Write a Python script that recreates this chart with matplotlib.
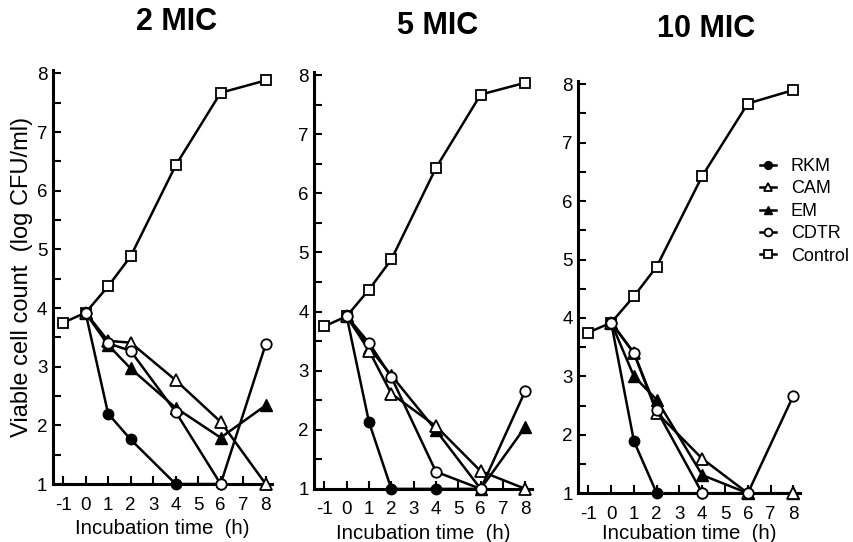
import numpy as np
import matplotlib.pyplot as plt

plt.rcParams['font.family'] = ['Liberation Sans', 'DejaVu Sans']
plt.rcParams['axes.unicode_minus'] = False

# incubation times (h)
t_ctrl = [-1, 0, 1, 2, 4, 6, 8]
t_drug = [0, 1, 2, 4, 6, 8]
t_rkm = [0, 1, 2, 4, 6]

titles = ['2 MIC', '5 MIC', '10 MIC']

control = [
    [3.75, 3.92, 4.37, 4.88, 6.43, 7.67, 7.88],
    [3.75, 3.92, 4.37, 4.88, 6.43, 7.67, 7.87],
    [3.75, 3.92, 4.37, 4.88, 6.43, 7.67, 7.90],
]
rkm = [
    [3.92, 2.20, 1.76, 1.0, 1.0],
    [3.92, 2.13, 1.0, 1.0, 1.0],
    [3.92, 1.89, 1.0, 1.0, 1.0],
]
cam = [
    [3.92, 3.44, 3.41, 2.77, 2.06, 1.0],
    [3.92, 3.34, 2.61, 2.06, 1.30, 1.0],
    [3.92, 3.40, 2.38, 1.59, 1.0, 1.0],
]
em = [
    [3.92, 3.37, 2.97, 2.30, 1.79, 2.34],
    [3.92, 3.39, 2.92, 1.99, 1.0, 2.05],
    [3.92, 3.00, 2.60, 1.31, 1.0, 1.0],
]
cdtr = [
    [3.92, 3.40, 3.27, 2.23, 1.0, 3.38],
    [3.92, 3.47, 2.89, 1.29, 1.0, 2.66],
    [3.92, 3.40, 2.42, 1.0, 1.0, 2.67],
]

# axes rectangles [left, bottom, width, height] and title positions
rects = [[0.062, 0.107, 0.257, 0.763],
         [0.368, 0.098, 0.255, 0.769],
         [0.677, 0.090, 0.260, 0.760]]
title_xy = [(0.207, 0.959), (0.512, 0.952), (0.827, 0.946)]
xlabel_pad = [4, 4, 1]

fig = plt.figure(figsize=(8.54, 5.42), dpi=100)
lw = 1.8
ms = 7.5

for i in range(3):
    ax = fig.add_axes(rects[i])
    ax.plot(t_ctrl, control[i], '-s', color='black', lw=lw, ms=ms - 0.5,
            mfc='white', mew=1.3, label='Control', zorder=3, clip_on=False)
    ax.plot(t_rkm, rkm[i], '-o', color='black', lw=lw, ms=ms,
            mfc='black', label='RKM', zorder=4, clip_on=False)
    ax.plot(t_drug, cam[i], '-^', color='black', lw=lw, ms=ms + 0.5,
            mfc='white', mew=1.3, label='CAM', zorder=5, clip_on=False)
    ax.plot(t_drug, em[i], '-^', color='black', lw=lw, ms=ms + 0.5,
            mfc='black', label='EM', zorder=4, clip_on=False)
    ax.plot(t_drug, cdtr[i], '-o', color='black', lw=lw, ms=ms,
            mfc='white', mew=1.3, label='CDTR', zorder=5, clip_on=False)

    ax.set_xlim(-1.45, 8.3)
    ax.set_ylim(1, 8.05)
    ax.set_xticks(range(-1, 9))
    ax.set_yticks(range(1, 9))
    ax.set_yticks(np.arange(1.5, 8, 1), minor=True)
    ax.tick_params(direction='in', length=6, width=1.5, labelsize=13.5, pad=4)
    ax.tick_params(axis='x', pad=9)
    ax.tick_params(which='minor', direction='in', length=6, width=1.5)
    ax.spines['top'].set_visible(False)
    ax.spines['right'].set_visible(False)
    ax.spines['left'].set_linewidth(2.2)
    ax.spines['bottom'].set_linewidth(2.2)
    ax.set_xlabel('Incubation time  (h)', fontsize=14.7, labelpad=xlabel_pad[i])
    fig.text(title_xy[i][0], title_xy[i][1], titles[i], fontsize=22,
             fontweight='bold', ha='center', va='center')

    if i == 0:
        ax.set_ylabel('Viable cell count  (log CFU/ml)', fontsize=17)
        ax.yaxis.set_label_coords(33 / 854, 1 - 277 / 542, transform=fig.transFigure)
    if i == 2:
        h, l = ax.get_legend_handles_labels()
        order = [1, 2, 3, 4, 0]
        fig.legend([h[k] for k in order], [l[k] for k in order],
                   loc='upper left', bbox_to_anchor=(760 / 854, 1 - 158 / 542),
                   bbox_transform=fig.transFigure,
                   frameon=False, fontsize=13, handlelength=0.9,
                   handletextpad=0.8, labelspacing=0.3, markerscale=0.75,
                   borderaxespad=0, borderpad=0)

fig.savefig('out.png', dpi=100)
